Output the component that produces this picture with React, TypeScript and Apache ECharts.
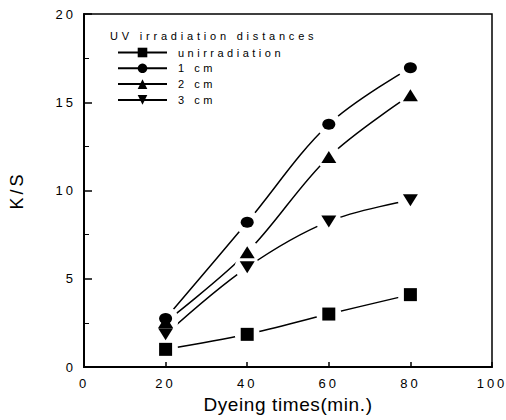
import React, { useEffect, useRef } from "react";
import * as echarts from "echarts";

// Dyeing time (min.) on the x axis
const times = [20, 40, 60, 80];

// K/S values for each UV irradiation distance
const unirradiation = [1.0, 1.85, 3.0, 4.1];
const cm1 = [2.75, 8.2, 13.75, 16.95];
const cm2 = [2.55, 6.5, 11.9, 15.4];
const cm3 = [1.85, 5.65, 8.25, 9.45];

const seriesNames = ["unirradiation", "1 cm", "2 cm", "3 cm"];
const legendTitle = "UV irradiation distances";
const xTicks = [0, 20, 40, 60, 80, 100];
const yTicks = [0, 5, 10, 15, 20];

const FONT = "Arial, 'Liberation Sans', Helvetica, sans-serif";

const pairs = (ys: number[]) => times.map((t, i) => [t, ys[i]]);

type Spec = { name: string; data: number[]; symbol: string; size: number[]; rotate: number };

const specs: Spec[] = [
  { name: seriesNames[0], data: unirradiation, symbol: "rect", size: [13, 13], rotate: 0 },
  { name: seriesNames[1], data: cm1, symbol: "circle", size: [13, 11], rotate: 0 },
  { name: seriesNames[2], data: cm2, symbol: "triangle", size: [15, 12], rotate: 0 },
  { name: seriesNames[3], data: cm3, symbol: "triangle", size: [15, 12], rotate: 180 },
];

export default function App() {
  const ref = useRef<HTMLDivElement>(null);

  useEffect(() => {
    if (!ref.current) return;
    const chart = echarts.init(ref.current, null, { renderer: "svg" });

    // Smooth connecting curves (these also carry the legend entries)
    const lines = specs.map((s) => ({
      type: "line",
      name: s.name,
      data: pairs(s.data),
      smooth: 0.35,
      symbol: s.symbol,
      symbolSize: s.size,
      symbolRotate: s.rotate,
      showSymbol: false,
      lineStyle: { color: "#000", width: 1.5 },
      itemStyle: { color: "#000" },
      z: 1,
    }));

    // White discs that open a gap in the curves around each marker
    const halos = specs.map((s, i) => ({
      type: "scatter",
      name: `gap-${i}`,
      data: pairs(s.data),
      symbol: "circle",
      symbolSize: 25,
      itemStyle: { color: "#ffffff", opacity: 1 },
      z: 3,
    }));

    // The filled markers
    const markers = specs.map((s, i) => ({
      type: "scatter",
      name: `marker-${i}`,
      data: pairs(s.data),
      symbol: s.symbol,
      symbolSize: s.size,
      symbolRotate: s.rotate,
      itemStyle: { color: "#000", opacity: 1 },
      z: 4,
    }));

    chart.setOption({
      animation: false,
      backgroundColor: "#fff",
      grid: {
        left: 83,
        right: 14,
        top: 14,
        bottom: 53,
        show: true,
        borderColor: "#000",
        borderWidth: 1.5,
        backgroundColor: "transparent",
      },
      legend: {
        data: seriesNames,
        orient: "vertical",
        left: 117,
        top: 47,
        padding: 0,
        itemWidth: 49,
        itemHeight: 12,
        itemGap: 4.8,
        itemStyle: { borderWidth: 0, color: "#000" },
        lineStyle: { width: 2 },
        textStyle: {
          fontFamily: FONT,
          fontSize: 11,
          color: "#000",
          padding: [0, 0, 0, 6],
        },
        selectedMode: false,
      },
      graphic: [
        {
          type: "text",
          left: 110,
          top: 30,
          style: {
            text: legendTitle,
            font: `11px ${FONT}`,
            fill: "#000",
          },
        },
      ],
      xAxis: {
        type: "value",
        min: 0,
        max: 100,
        interval: 20,
        name: "Dyeing times(min.)",
        nameLocation: "middle",
        nameGap: 28,
        nameTextStyle: { fontFamily: FONT, fontSize: 19, color: "#000" },
        axisLine: { show: true, lineStyle: { color: "#000", width: 2 } },
        axisTick: { show: true, inside: true, length: 5, lineStyle: { color: "#000", width: 1.5 } },
        axisLabel: {
          fontFamily: FONT,
          fontSize: 13,
          color: "#000",
          margin: 10,
          formatter: (v: number) => (xTicks.includes(v) ? String(v) : ""),
        },
        splitLine: { show: false },
      },
      yAxis: {
        type: "value",
        min: 0,
        max: 20,
        interval: 5,
        name: "K/S",
        nameLocation: "middle",
        nameGap: 58,
        nameRotate: 90,
        nameTextStyle: { fontFamily: FONT, fontSize: 18, color: "#000" },
        axisLine: { show: true, lineStyle: { color: "#000", width: 2 } },
        axisTick: { show: true, inside: true, length: 8, lineStyle: { color: "#000", width: 1.5 } },
        minorTick: { show: true, splitNumber: 2, length: 5, lineStyle: { color: "#000", width: 1 } },
        axisLabel: {
          fontFamily: FONT,
          fontSize: 13,
          color: "#000",
          margin: 8,
          formatter: (v: number) => (yTicks.includes(v) ? String(v) : ""),
        },
        splitLine: { show: false },
      },
      series: [...lines, ...halos, ...markers],
    });

    // Wide letter spacing on the tick labels, legend and axis titles
    const spaced: Record<string, number> = { "K/S": 3, "Dyeing times(min.)": 0.6, [legendTitle]: 3.8 };
    seriesNames.forEach((n) => (spaced[n] = 3.5));
    [...xTicks, ...yTicks].forEach((v) => (spaced[String(v)] = 3));
    ref.current.querySelectorAll("text").forEach((t) => {
      const s = spaced[(t.textContent || "").trim()];
      if (s !== undefined) t.setAttribute("letter-spacing", String(s));
    });

    return () => chart.dispose();
  }, []);

  return (
    <div
      ref={ref}
      style={{ position: "fixed", left: 0, top: 0, width: 506, height: 420, background: "#fff" }}
    />
  );
}
